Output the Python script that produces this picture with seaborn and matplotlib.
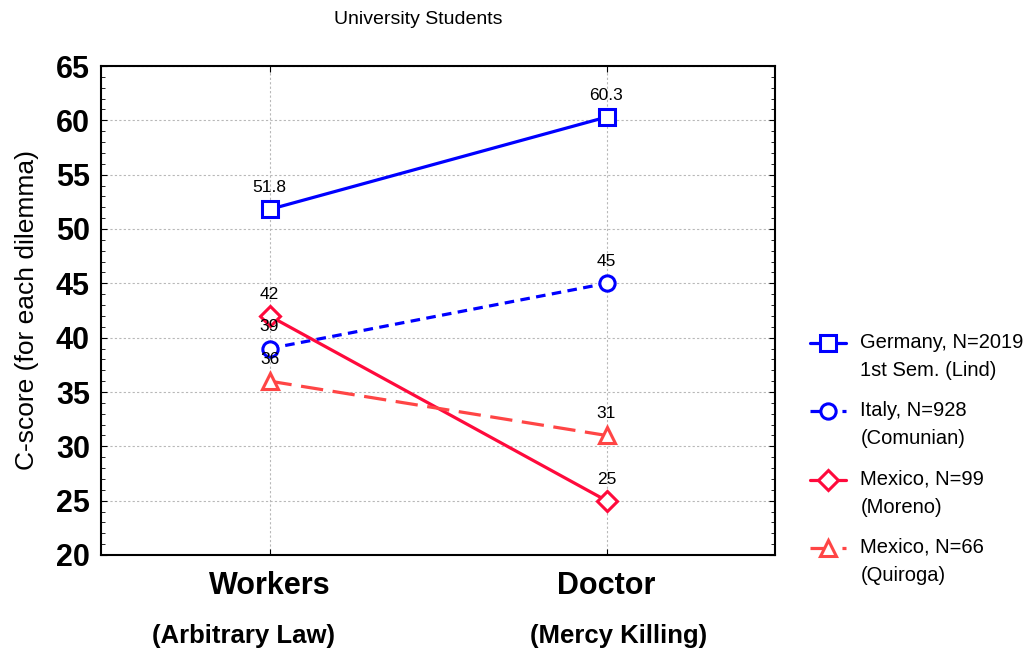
import matplotlib
matplotlib.use("Agg")
import matplotlib.pyplot as plt
from matplotlib.lines import Line2D
from matplotlib.ticker import MultipleLocator
import seaborn as sns
import pandas as pd

# data
dilemmas = ["Workers", "Doctor"]
dilemma_sub = ["(Arbitrary Law)", "(Mercy Killing)"]
series = [
    "Germany, N=2019\n1st Sem. (Lind)",
    "Italy, N=928\n(Comunian)",
    "Mexico, N=99\n(Moreno)",
    "Mexico, N=66\n(Quiroga)",
]
germany = [51.8, 60.3]
italy = [39, 45]
mexico_moreno = [42, 25]
mexico_quiroga = [36, 31]
value_labels = [["51.8", "60.3"], ["39", "45"], ["42", "25"], ["36", "31"]]

colors = ["#0000ff", "#0000ff", "#ff0a3c", "#ff4545"]
markers = ["s", "o", "D", "^"]
dashes = [(None, None), (3, 2), (None, None), (7, 3)]

sns.set_style("white")
plt.rcParams["font.family"] = ["Liberation Sans", "DejaVu Sans"]
plt.rcParams["text.color"] = "black"
plt.rcParams["xtick.color"] = "black"
plt.rcParams["ytick.color"] = "black"
plt.rcParams["axes.labelcolor"] = "black"

fig = plt.figure(figsize=(10.35, 6.56), dpi=100)
ax = fig.add_axes([101 / 1035, 1 - 555 / 656, 674 / 1035, 489 / 656])

values = [germany, italy, mexico_moreno, mexico_quiroga]
for i, (name, vals) in enumerate(zip(series, values)):
    df = pd.DataFrame({"x": [0, 1], "y": vals})
    sns.lineplot(data=df, x="x", y="y", ax=ax, color=colors[i], lw=2.3,
                 marker=markers[i], markersize=11 if markers[i] != "D" else 10,
                 markerfacecolor="white", markeredgecolor=colors[i],
                 markeredgewidth=2.2, label=name)
    if dashes[i][0] is not None:
        ax.lines[-1].set_dashes(dashes[i])
    for xi, yi, lab in zip([0, 1], vals, value_labels[i]):
        ax.text(xi, yi + 1.3, lab, ha="center", va="bottom", fontsize=12.5)

ax.set_xlim(-0.5, 1.5)
ax.set_ylim(20, 65)
ax.yaxis.set_major_locator(MultipleLocator(5))
ax.yaxis.set_minor_locator(MultipleLocator(1))
ax.set_xticks([0, 1])
ax.set_xticklabels([])
ax.grid(True, which="major", color="#b8b8b8", ls=(0, (2, 2)), lw=0.8)
ax.tick_params(axis="y", which="both", direction="in", left=True, right=True,
               labelsize=22, pad=8)
ax.tick_params(axis="y", which="major", length=4)
ax.tick_params(axis="y", which="minor", length=3)
ax.tick_params(axis="x", direction="in", bottom=True, top=True, length=4)
for lab in ax.get_yticklabels():
    lab.set_fontweight("bold")
for sp in ax.spines.values():
    sp.set_color("black")
    sp.set_linewidth(1.5)

sub_shift = [-0.077, 0.035]
for xi, (a, b) in enumerate(zip(dilemmas, dilemma_sub)):
    ax.text(xi, 17.15, a, ha="center", va="center", fontsize=22,
            fontweight="bold", clip_on=False)
    ax.text(xi + sub_shift[xi], 12.5, b, ha="center", va="center",
            fontsize=18.5, fontweight="bold", clip_on=False)

ax.set_xlabel("")
ax.set_ylabel("C-score (for each dilemma)", fontsize=19, labelpad=12)
fig.text(418 / 1035, 1 - 20 / 656, "University Students", ha="center",
         va="center", fontsize=14)

leg = ax.legend(loc="upper left", bbox_to_anchor=(1.04, 0.47), frameon=False,
                fontsize=14.5, handlelength=1.8, labelspacing=1.05,
                borderaxespad=0, handletextpad=0.7)
for t in leg.get_texts():
    t.set_linespacing(1.6)
# put the handle next to the first line of each label
for ln in leg.findobj(Line2D):
    ln.set_ydata([y + 10 for y in ln.get_ydata()])

fig.savefig("out.png", dpi=100)
